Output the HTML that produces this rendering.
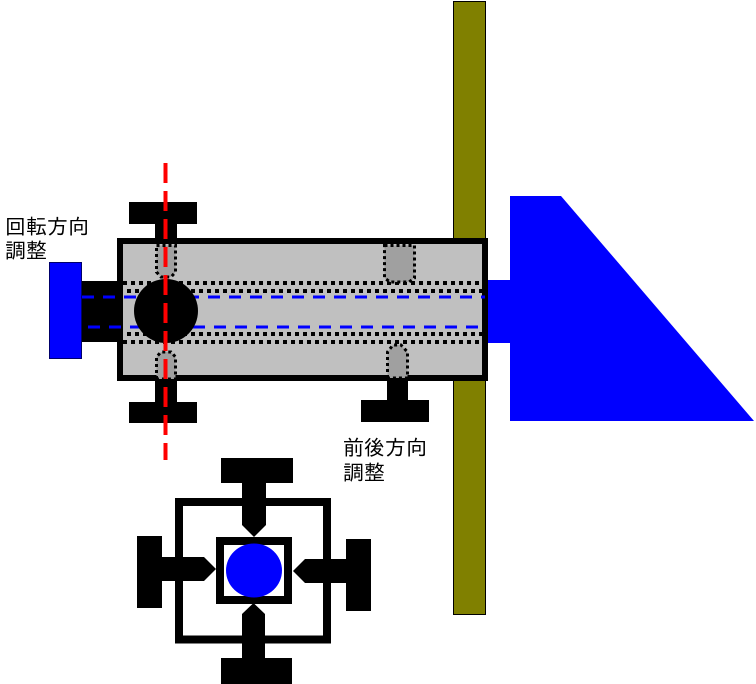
<!DOCTYPE html>
<html><head><meta charset="utf-8">
<style>
html,body{margin:0;padding:0;background:#fff;}
svg{display:block;}
text{font-family:"Liberation Sans","IPAGothic","Noto Sans CJK JP",sans-serif;font-size:21px;fill:#000;}
</style></head>
<body>
<svg width="756" height="684" viewBox="0 0 756 684" xmlns="http://www.w3.org/2000/svg">
<rect x="0" y="0" width="756" height="684" fill="#fff"/>
<!-- olive bar -->
<rect x="453.5" y="1.5" width="32" height="613" fill="#808000" stroke="#000" stroke-width="1"/>
<!-- blue flag + connector -->
<rect x="484" y="280" width="28" height="63" fill="#0000ff"/>
<polygon points="510,196 561,196 754,421 510,421" fill="#0000ff"/>
<!-- left blue rect + black connector -->
<rect x="49.5" y="262.5" width="32" height="96" fill="#0000ff" stroke="#00006a" stroke-width="1"/>
<rect x="82" y="281" width="40" height="61" fill="#000"/>
<!-- main body -->
<rect x="120" y="241" width="365" height="137" fill="#c0c0c0" stroke="#000" stroke-width="6"/>
<!-- blue dashed -->
<line x1="82" y1="297" x2="485" y2="297" stroke="#0000ff" stroke-width="3" stroke-dasharray="12 9"/>
<line x1="88" y1="327" x2="485" y2="327" stroke="#0000ff" stroke-width="3" stroke-dasharray="12 9"/>
<!-- dotted rows -->
<line x1="123" y1="283" x2="488" y2="283" stroke="#000" stroke-width="4" stroke-dasharray="4 4"/>
<line x1="123" y1="291" x2="488" y2="291" stroke="#000" stroke-width="4" stroke-dasharray="4 4" stroke-dashoffset="4"/>
<line x1="123" y1="334" x2="488" y2="334" stroke="#000" stroke-width="4" stroke-dasharray="4 4" stroke-dashoffset="4"/>
<line x1="123" y1="342" x2="488" y2="342" stroke="#000" stroke-width="4" stroke-dasharray="4 4"/>
<!-- circle -->
<circle cx="166" cy="311" r="32" fill="#000"/>
<!-- T shapes upper -->
<rect x="129" y="202" width="68" height="22" fill="#000"/>
<rect x="155" y="223" width="22" height="21" fill="#000"/>
<rect x="155" y="379" width="22" height="24" fill="#000"/>
<rect x="129" y="402" width="68" height="21" fill="#000"/>
<rect x="387" y="379" width="21" height="22" fill="#000"/>
<rect x="361" y="400" width="68" height="22" fill="#000"/>
<!-- gray dotted blocks -->
<g fill="#a0a0a0" stroke="#000" stroke-width="3" stroke-dasharray="3 3">
<polygon points="156.5,245.5 175.5,245.5 175.5,272 171,277 161,277 156.5,272"/>
<polygon points="156.5,379 156.5,357 161,352 171,352 175.5,357 175.5,379"/>
<polygon points="384.5,245.5 414.5,245.5 414.5,278 409,282 390,282 384.5,278"/>
<polygon points="387.5,378 387.5,352 393,345 401,345 407.5,352 407.5,378"/>
</g>
<!-- red dashed line -->
<line x1="165.5" y1="163" x2="165.5" y2="460" stroke="#ff0000" stroke-width="4" stroke-dasharray="20 8"/>
<!-- labels -->
<text x="5" y="234">回転方向</text>
<text x="5" y="258">調整</text>
<text x="343" y="455">前後方向</text>
<text x="343" y="480">調整</text>
<!-- lower diagram -->
<rect x="179" y="502" width="148" height="137.5" fill="none" stroke="#000" stroke-width="8"/>
<rect x="220" y="541" width="68" height="59" fill="#fff" stroke="#000" stroke-width="8"/>
<ellipse cx="254" cy="570.5" rx="28" ry="27" fill="#0000ff"/>
<!-- top T -->
<rect x="221" y="458" width="72" height="25" fill="#000"/>
<polygon points="242,482 266,482 266,525 254,537 242,525" fill="#000"/>
<!-- bottom T -->
<rect x="221" y="658" width="71" height="26" fill="#000"/>
<polygon points="242,659 242,614 253.5,603 265,614 265,659" fill="#000"/>
<!-- left T -->
<rect x="137" y="536" width="25" height="72" fill="#000"/>
<polygon points="161,557 204,557 216,569 204,581 161,581" fill="#000"/>
<!-- right T -->
<rect x="346" y="539" width="25" height="72" fill="#000"/>
<polygon points="347,559 305,559 293,571 305,583 347,583" fill="#000"/>
</svg>
</body></html>
